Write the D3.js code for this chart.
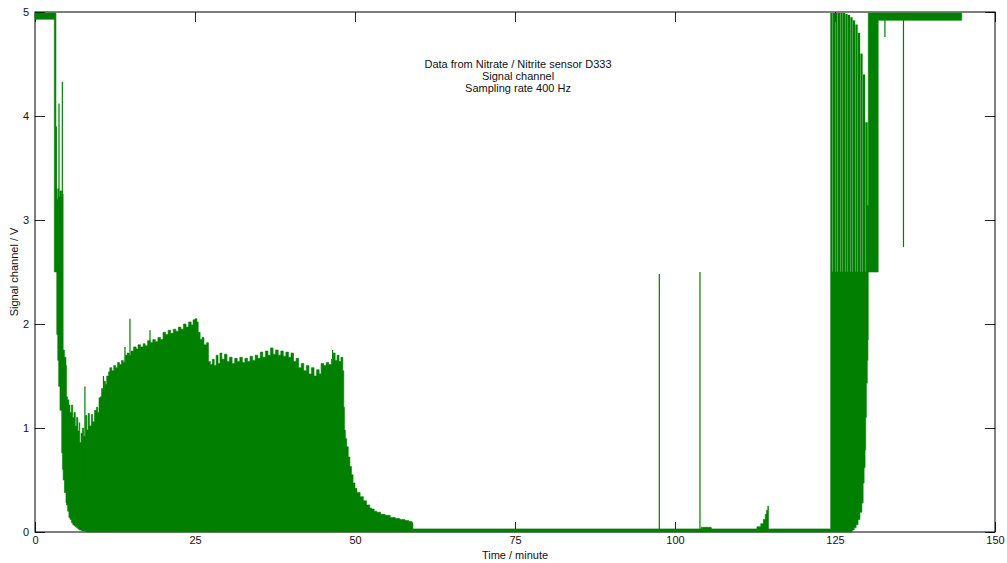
<!DOCTYPE html>
<html>
<head>
<meta charset="utf-8">
<script src="https://cdn.jsdelivr.net/npm/d3@7"></script>
<style>
  html, body { margin: 0; padding: 0; background: #fff; }
  svg { display: block; font-family: "Liberation Sans", Arial, sans-serif; }
</style>
</head>
<body>
<svg id="chart" width="1007" height="563"></svg>
<script>
// Signal trace of the nitrate / nitrite sensor, drawn as the envelope of a fast oscillation.
// Each envelope row: [minute, low, high] in volts.
const warmup = [
  [0, 4.93, 4.99], [3.0, 4.93, 4.99], [3.02, 2.5, 4.99], [3.22, 2.5, 4.99],
  [3.27, 2.5, 3.3], [3.4, 1.9, 3.2], [3.55, 1.65, 3.3], [3.7, 1.4, 3.22],
  [3.9, 1.17, 3.28], [4.17, 0.76, 3.22], [4.3, 0.6, 3.25], [4.4, 0.5, 1.75],
  [4.6, 0.38, 1.68], [4.84, 0.28, 1.6], [4.92, 0.26, 1.3], [5.1, 0.2, 1.27],
  [5.3, 0.14, 1.22], [5.47, 0.12, 1.15], [5.7, 0.09, 1.22], [5.9, 0.07, 1.1],
  [6.1, 0.06, 1.15], [6.3, 0.05, 1.02], [6.5, 0.04, 1.1], [6.7, 0.03, 0.97],
  [6.9, 0.02, 1.05], [7.0, 0.02, 0.86], [7.2, 0.015, 0.95], [7.4, 0.01, 1.0],
  [7.6, 0.01, 0.92], [7.9, 0.005, 1.12], [8.1, 0, 0.98], [8.3, 0, 1.14]
];
const plateau = [
  [8.5, 0, 1.02], [8.8, 0, 1.13], [9.0, 0, 1.06], [9.3, 0, 1.17], [9.6, 0, 1.2],
  [9.8, 0, 1.15], [10.0, 0, 1.29], [10.2, 0, 1.3], [10.4, 0, 1.38], [10.6, 0, 1.35],
  [10.8, 0, 1.45], [11.0, 0, 1.42], [11.2, 0, 1.5], [11.5, 0, 1.54], [11.7, 0, 1.58],
  [12.0, 0, 1.55], [12.3, 0, 1.6], [12.6, 0, 1.58], [12.9, 0, 1.63], [13.2, 0, 1.61],
  [13.5, 0, 1.65], [13.8, 0, 1.63], [14.1, 0, 1.7], [14.4, 0, 1.72], [14.7, 0, 1.7],
  [15.0, 0, 1.74], [15.4, 0, 1.78], [15.8, 0, 1.76], [16.1, 0, 1.8], [16.5, 0, 1.78],
  [16.9, 0, 1.81], [17.2, 0, 1.79], [17.6, 0, 1.84], [18.0, 0, 1.82], [18.4, 0, 1.85],
  [18.8, 0, 1.83], [19.2, 0, 1.87], [19.6, 0, 1.85], [20.0, 0, 1.92], [20.4, 0, 1.9],
  [20.8, 0, 1.94], [21.2, 0, 1.91], [21.6, 0, 1.95], [22.0, 0, 1.93], [22.4, 0, 1.97],
  [22.8, 0, 1.95], [23.2, 0, 2.0], [23.6, 0, 1.97], [24.0, 0, 2.02], [24.4, 0, 1.99],
  [24.7, 0, 2.04], [25.0, 0, 2.05], [25.3, 0, 2.02], [25.5, 0, 1.92], [25.8, 0, 1.85],
  [26.1, 0, 1.87], [26.4, 0, 1.8], [26.8, 0, 1.82], [27.1, 0, 1.64], [27.4, 0, 1.61],
  [27.7, 0, 1.66], [28.0, 0, 1.6], [28.3, 0, 1.7], [28.6, 0, 1.62], [28.9, 0, 1.72],
  [29.2, 0, 1.66], [29.6, 0, 1.71], [30.0, 0, 1.64], [30.4, 0, 1.68], [30.8, 0, 1.62],
  [31.2, 0, 1.67], [31.6, 0, 1.64], [32.0, 0, 1.68], [32.4, 0, 1.63], [32.8, 0, 1.67],
  [33.2, 0, 1.64], [33.6, 0, 1.69], [34.0, 0, 1.65], [34.4, 0, 1.7], [34.8, 0, 1.67],
  [35.2, 0, 1.73], [35.6, 0, 1.68], [36.0, 0, 1.74], [36.4, 0, 1.7], [36.8, 0, 1.77],
  [37.2, 0, 1.71], [37.6, 0, 1.75], [38.0, 0, 1.7], [38.4, 0, 1.74], [38.8, 0, 1.69],
  [39.2, 0, 1.73], [39.6, 0, 1.68], [40.0, 0, 1.72], [40.4, 0, 1.64], [40.8, 0, 1.67],
  [41.2, 0, 1.58], [41.6, 0, 1.62], [42.0, 0, 1.55], [42.4, 0, 1.6], [42.8, 0, 1.52],
  [43.2, 0, 1.58], [43.6, 0, 1.5], [44.0, 0, 1.56], [44.4, 0, 1.52], [44.7, 0, 1.62],
  [45.1, 0, 1.6], [45.5, 0, 1.63], [45.9, 0, 1.61], [46.3, 0, 1.66], [46.6, 0, 1.72],
  [46.9, 0, 1.65], [47.2, 0, 1.7], [47.5, 0, 1.64], [47.8, 0, 1.68]
];
const washout = [
  [48.1, 0, 1.55], [48.25, 0, 1.2], [48.35, 0, 0.98], [48.5, 0, 0.9], [48.7, 0, 0.82],
  [48.95, 0, 0.72], [49.2, 0, 0.63], [49.45, 0, 0.55], [49.7, 0, 0.47], [50.0, 0, 0.42],
  [50.3, 0, 0.38], [50.8, 0, 0.34], [51.3, 0, 0.3], [51.8, 0, 0.26], [52.3, 0, 0.23],
  [52.6, 0, 0.22], [53.0, 0, 0.2], [53.4, 0, 0.19], [54.0, 0, 0.17], [54.7, 0, 0.16],
  [55.5, 0, 0.14], [56.3, 0, 0.13], [57.0, 0, 0.12], [57.8, 0, 0.11], [58.4, 0, 0.1],
  [58.9, 0, 0.09]
];
const baseline = [
  [59.05, 0, 0.03], [104.0, 0, 0.03], [104.1, 0, 0.045], [105.6, 0, 0.04],
  [105.7, 0, 0.03], [112.3, 0, 0.03], [112.8, 0, 0.05], [113.4, 0, 0.08],
  [113.8, 0, 0.12], [114.1, 0, 0.17], [114.3, 0, 0.21], [114.5, 0, 0.25],
  [114.6, 0, 0.03], [124.3, 0, 0.03]
];
const recovery = [
  [124.32, 0, 2.5], [127.3, 0, 2.5], [127.7, 0.02, 2.5], [128.0, 0.04, 2.5],
  [128.3, 0.07, 2.5], [128.6, 0.12, 2.5], [128.9, 0.19, 2.5], [129.2, 0.28, 2.5],
  [129.4, 0.47, 2.5], [129.55, 0.62, 2.5], [129.7, 0.79, 2.5], [129.8, 1.1, 2.5],
  [129.9, 1.43, 2.5], [130.05, 1.65, 2.5], [130.15, 1.85, 2.5], [130.2, 2.5, 4.99],
  [131.7, 2.5, 4.99], [131.75, 4.92, 4.99], [144.8, 4.92, 4.99]
];

// Single excursions: [minute, from, to] in volts.
const spikes = [
  [3.33, 3.0, 3.9], [3.75, 3.0, 4.12], [4.27, 3.0, 4.33],
  [7.8, 0.5, 1.4], [10.7, 1.0, 1.5], [14.06, 1.5, 1.78], [14.84, 1.5, 2.05],
  [17.97, 1.6, 1.94], [46.5, 1.5, 1.75],
  [97.55, 0, 2.48], [103.9, 0, 2.5],
  [132.8, 4.76, 4.99], [135.7, 2.74, 4.99]
];

// Saturated swings while the sensor recovers: minute and peak voltage, each rising from 2.5 V.
const burstMinute = [124.45, 124.84, 125.23, 125.63, 126.02, 126.41, 126.8, 127.19,
                     127.58, 127.97, 128.36, 128.75, 129.14, 129.53, 129.92, 130.16];
const burstPeak   = [4.99, 4.99, 4.99, 4.99, 4.99, 4.99, 4.98, 4.97,
                     4.95, 4.92, 4.88, 4.8, 4.6, 4.4, 3.94, 3.14];
const burstFloor = 2.5;

const xTicks = [0, 25, 50, 75, 100, 125, 150];
const yTicks = [0, 1, 2, 3, 4, 5];
const titleLines = ["Data from Nitrate / Nitrite sensor D333", "Signal channel", "Sampling rate 400 Hz"];
const xLabel = "Time / minute";
const yLabel = "Signal channel / V";

const W = 1007, H = 563;
const margin = { left: 35, right: 12, top: 12, bottom: 31 };
const green = "#007f00";

const svg = d3.select("#chart");
const x = d3.scaleLinear().domain([0, 150]).range([margin.left, W - margin.right]);
const y = d3.scaleLinear().domain([0, 5]).range([H - margin.bottom, margin.top]);

// Axes: ticks point inward on all four sides
const tickLen = 10;
function styleAxis(g) {
  g.select(".domain").remove();
  g.selectAll(".tick line").attr("stroke", "#222").attr("stroke-width", 1);
  g.selectAll(".tick text").attr("fill", "#111").style("font-size", "11px")
    .style("font-family", '"Liberation Sans", Arial, sans-serif');
}
svg.append("g").attr("transform", `translate(0,${y(0)})`)
  .call(d3.axisBottom(x).tickValues(xTicks).tickSize(-tickLen).tickPadding(4).tickFormat(d3.format("d")))
  .call(styleAxis);
svg.append("g").attr("transform", `translate(0,${y(5)})`)
  .call(d3.axisTop(x).tickValues(xTicks).tickSize(-tickLen).tickFormat(""))
  .call(styleAxis);
svg.append("g").attr("transform", `translate(${x(0)},0)`)
  .call(d3.axisLeft(y).tickValues(yTicks).tickSize(-tickLen).tickPadding(6).tickFormat(d3.format("d")))
  .call(styleAxis);
svg.append("g").attr("transform", `translate(${x(150)},0)`)
  .call(d3.axisRight(y).tickValues(yTicks).tickSize(-tickLen).tickFormat(""))
  .call(styleAxis);

// Frame
svg.append("rect")
  .attr("x", x(0)).attr("y", y(5))
  .attr("width", x(150) - x(0)).attr("height", y(0) - y(5))
  .attr("fill", "none").attr("stroke", "#000").attr("stroke-width", 1);

// Envelope of the oscillating signal
const envelope = [].concat(warmup, plateau, washout, baseline, recovery);
const area = d3.area()
  .curve(d3.curveStepAfter)
  .x(d => x(d[0]))
  .y0(d => y(d[1]))
  .y1(d => y(d[2]));
svg.append("path").datum(envelope)
  .attr("d", area)
  .attr("fill", green)
  .attr("stroke", green)
  .attr("stroke-width", 0.6);

// Recovery swings
const line = d3.line().x(d => x(d[0])).y(d => y(d[1]));
svg.append("g").selectAll("path")
  .data(burstMinute.map((m, i) => [[m, burstFloor], [m, burstPeak[i]]]))
  .join("path")
  .attr("d", line)
  .attr("stroke", green)
  .attr("stroke-width", 2.3)
  .attr("fill", "none");

// Isolated spikes
svg.append("g").selectAll("path")
  .data(spikes.map(s => [[s[0], s[1]], [s[0], s[2]]]))
  .join("path")
  .attr("d", line)
  .attr("stroke", green)
  .attr("stroke-width", 1.2)
  .attr("fill", "none");

// Title block
const title = svg.append("text")
  .attr("text-anchor", "middle")
  .style("font-size", "11px")
  .attr("fill", "#111");
titleLines.forEach((t, i) => {
  title.append("tspan").attr("x", 518).attr("y", 68 + i * 12).text(t);
});

// Axis labels
svg.append("text")
  .attr("x", (x(0) + x(150)) / 2).attr("y", 559)
  .attr("text-anchor", "middle")
  .style("font-size", "11px").attr("fill", "#111")
  .text(xLabel);
svg.append("text")
  .attr("transform", `translate(18,${(y(0) + y(5)) / 2}) rotate(-90)`)
  .attr("text-anchor", "middle")
  .style("font-size", "11px").attr("fill", "#111")
  .text(yLabel);
</script>
</body>
</html>
